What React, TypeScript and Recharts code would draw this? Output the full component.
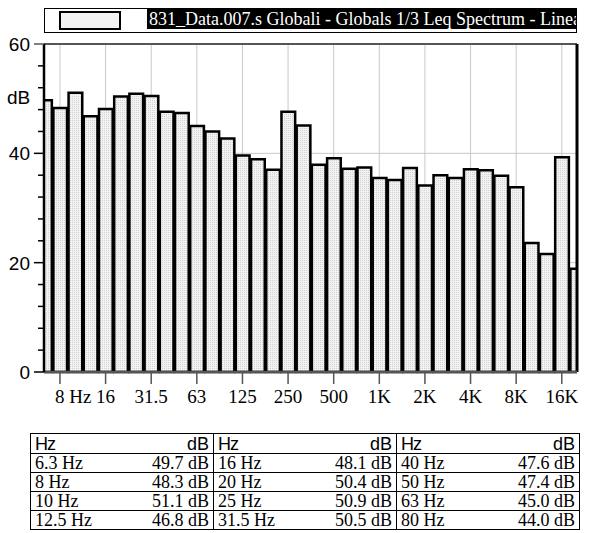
import React from 'react'
import {
  BarChart,
  Bar,
  XAxis,
  YAxis,
  CartesianGrid,
  Legend,
  ReferenceLine,
} from 'recharts'

// 1/3 octave band centres and the Leq level measured in each
const BANDS = [
  '6.3', '8', '10', '12.5', '16', '20', '25', '31.5', '40', '50', '63', '80',
  '100', '125', '160', '200', '250', '315', '400', '500', '630', '800',
  '1K', '1.25K', '1.6K', '2K', '2.5K', '3.15K', '4K', '5K', '6.3K', '8K',
  '10K', '12.5K', '16K', '20K',
]
const LEVELS = [
  49.7, 48.3, 51.1, 46.8, 48.1, 50.4, 50.9, 50.5, 47.6, 47.4, 45.0, 44.0,
  42.7, 39.6, 38.9, 37.0, 47.6, 45.1, 37.9, 39.1, 37.2, 37.4,
  35.5, 35.1, 37.3, 34.1, 36.0, 35.5, 37.1, 36.9, 35.9, 33.8,
  23.6, 21.6, 39.3, 18.9,
]
// octave bands that carry a tick label
const TICK_BANDS = ['8', '16', '31.5', '63', '125', '250', '500', '1K', '2K', '4K', '8K', '16K']
const TICK_LABELS = ['8 Hz', '16', '31.5', '63', '125', '250', '500', '1K', '2K', '4K', '8K', '16K']
const Y_TICKS = [0, 4, 8, 12, 16, 20, 24, 28, 32, 36, 40, 44, 48, 52, 56, 60]
const SERIES_NAME = '831_Data.007.s Globali - Globals 1/3 Leq Spectrum - Linear'

const data = BANDS.map((band, idx) => ({ idx, band, level: LEVELS[idx] }))
const tickIdx = TICK_BANDS.map((b) => BANDS.indexOf(b))

const W = 592
const H = 420
const MARGIN = { top: 8, right: 15, left: 0, bottom: 8 }
const Y_AXIS_W = 44
const X_DOMAIN: [number, number] = [-0.05, 35]
const PLOT_W = W - MARGIN.left - MARGIN.right - Y_AXIS_W
const BAR_W = PLOT_W / (X_DOMAIN[1] - X_DOMAIN[0])

const SERIF = '"Liberation Serif", "Times New Roman", serif'
const SANS = '"Liberation Sans", Arial, sans-serif'
const DOT = '#d2d2d2'
const PAPER = '#f2f2f2'
const STIPPLE = `radial-gradient(${DOT} 0 0.5px, ${PAPER} 0.6px) 0 0 / 2px 2px`

function YTick({ x, y, payload }: any) {
  const v = payload.value
  const major = v % 20 === 0
  return (
    <g>
      <line x1={x - (major ? 10 : 6)} x2={x} y1={y} y2={y} stroke={v === 60 ? '#555' : '#000'} strokeWidth={1.5} />
      {major && (
        <text x={x - 14} y={y} dy="0.36em" textAnchor="end" fontFamily={SANS} fontSize={19} fill="#000">
          {v}
        </text>
      )}
    </g>
  )
}

function XTick({ x, y, payload }: any) {
  const k = tickIdx.indexOf(payload.value)
  if (k < 0) return null
  const first = k === 0
  return (
    <text
      x={first ? x - 5 : x}
      y={y + 17}
      textAnchor={first ? 'start' : 'middle'}
      fontFamily={SERIF}
      fontSize={19}
      fill="#000"
    >
      {TICK_LABELS[k]}
    </text>
  )
}

function UnitLabel({ viewBox }: any) {
  return (
    <text x={viewBox.x + 7} y={viewBox.y + 60} fontFamily={SANS} fontSize={19} fill="#000">
      dB
    </text>
  )
}

function SeriesLegend({ payload }: any) {
  const name = payload && payload[0] ? payload[0].value : SERIES_NAME
  return (
    <div style={{ height: 36, position: 'relative' }}>
      <div
        style={{
          position: 'absolute',
          left: 0,
          top: 0,
          width: 533,
          height: 25,
          border: '1px solid #000',
          boxSizing: 'border-box',
          background: '#fff',
          overflow: 'hidden',
        }}
      >
        <div
          style={{
            position: 'absolute',
            left: 14,
            top: 2,
            width: 62,
            height: 19,
            border: '2px solid #000',
            boxSizing: 'border-box',
            background: STIPPLE,
          }}
        />
        <div
          style={{
            position: 'absolute',
            left: 102,
            top: 0,
            height: 20,
            right: 0,
            background: '#000',
            color: '#fff',
            fontFamily: SERIF,
            fontSize: 18,
            lineHeight: '21px',
            whiteSpace: 'nowrap',
            paddingLeft: 2,
          }}
        >
          {name}
        </div>
      </div>
    </div>
  )
}

const cell: React.CSSProperties = {
  padding: '0 4px',
  height: 18,
  lineHeight: '18px',
  borderTop: '1px solid #000',
  whiteSpace: 'nowrap',
}

function LevelTable() {
  const groups = [0, 1, 2]
  const rows = [0, 1, 2, 3]
  return (
    <table
      style={{
        position: 'absolute',
        left: 30,
        top: 433,
        width: 548,
        borderCollapse: 'collapse',
        tableLayout: 'fixed',
        border: '1px solid #000',
      }}
    >
      <colgroup>
        {groups.map((g) => (
          <React.Fragment key={g}>
            <col style={{ width: 100 }} />
            <col style={{ width: 83 }} />
          </React.Fragment>
        ))}
      </colgroup>
      <thead>
        <tr>
          {groups.map((g) => (
            <React.Fragment key={g}>
              <th style={{ ...cell, height: 19, textAlign: 'left', fontFamily: SANS, fontSize: 18, fontWeight: 'normal', letterSpacing: -1, borderLeft: '1px solid #000' }}>
                Hz
              </th>
              <th style={{ ...cell, height: 19, textAlign: 'right', fontFamily: SANS, fontSize: 18, fontWeight: 'normal' }}>dB</th>
            </React.Fragment>
          ))}
        </tr>
      </thead>
      <tbody>
        {rows.map((r) => (
          <tr key={r}>
            {groups.map((g) => {
              const i = g * 4 + r
              return (
                <React.Fragment key={g}>
                  <td style={{ ...cell, textAlign: 'left', fontFamily: SERIF, fontSize: 18, borderLeft: '1px solid #000' }}>
                    {BANDS[i]} Hz
                  </td>
                  <td style={{ ...cell, textAlign: 'right', fontFamily: SERIF, fontSize: 18 }}>
                    {LEVELS[i].toFixed(1)} dB
                  </td>
                </React.Fragment>
              )
            })}
          </tr>
        ))}
      </tbody>
    </table>
  )
}

export default function App() {
  return (
    <div style={{ position: 'absolute', left: 0, top: 0, width: W, height: 533, background: '#fff' }}>
      <BarChart width={W} height={H} data={data} margin={MARGIN} barCategoryGap={0} barGap={0}>
        <defs>
          <pattern id="stipple" width="2" height="2" patternUnits="userSpaceOnUse">
            <rect width="2" height="2" fill={PAPER} />
            <rect width="1" height="1" fill={DOT} />
          </pattern>
        </defs>
        <CartesianGrid
          stroke="#c8c8c8"
          strokeWidth={1}
          verticalValues={tickIdx}
          horizontalValues={[20, 40]}
        />
        <Legend
          verticalAlign="top"
          align="left"
          content={<SeriesLegend />}
          wrapperStyle={{ left: 44, top: 8, width: 533 }}
        />
        <XAxis
          dataKey="idx"
          type="number"
          domain={X_DOMAIN}
          allowDataOverflow
          ticks={tickIdx}
          interval={0}
          height={40}
          tickSize={12}
          tickLine={{ stroke: '#555', strokeWidth: 1.5 }}
          axisLine={{ stroke: '#555', strokeWidth: 2.5 }}
          tick={<XTick />}
        />
        <YAxis
          type="number"
          domain={[0, 60]}
          ticks={Y_TICKS}
          interval={0}
          width={Y_AXIS_W}
          tickSize={0}
          tickMargin={0}
          axisLine={{ stroke: '#000', strokeWidth: 2.5 }}
          tick={<YTick />}
          label={<UnitLabel />}
        />
        <Bar
          dataKey="level"
          name={SERIES_NAME}
          barSize={BAR_W}
          fill="url(#stipple)"
          stroke="#000"
          strokeWidth={2.5}
          isAnimationActive={false}
        />
        <ReferenceLine y={60} stroke="#555" strokeWidth={2} ifOverflow="visible" />
        <ReferenceLine x={X_DOMAIN[1]} stroke="#000" strokeWidth={3} ifOverflow="visible" />
      </BarChart>
      <LevelTable />
    </div>
  )
}
